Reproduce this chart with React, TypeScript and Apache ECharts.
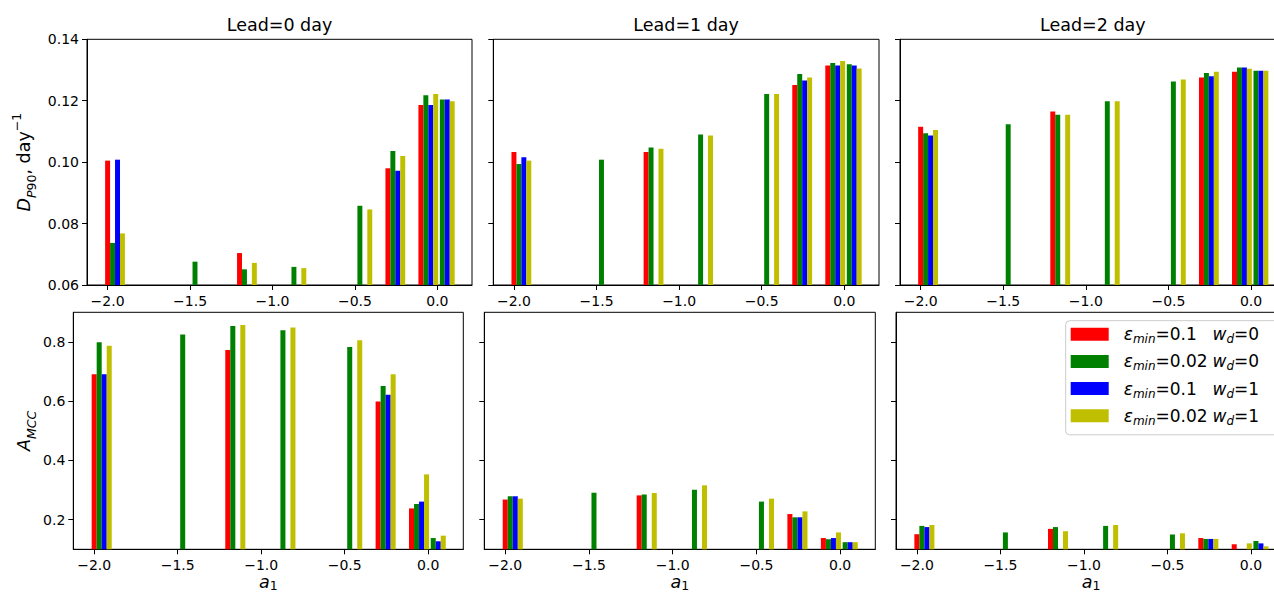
import React, { useEffect, useRef } from 'react';
import * as echarts from 'echarts';

// ---------------- data ----------------
const A1 = [-2.0, -1.5, -1.2, -0.9, -0.5, -0.3, -0.1, 0.0];
const CONFIGS = ['e0.1_w0', 'e0.02_w0', 'e0.1_w1', 'e0.02_w1'];
const LEAD_TITLES = ['Lead=0 day', 'Lead=1 day', 'Lead=2 day'];
const X_TICKS = [-2.0, -1.5, -1.0, -0.5, 0.0];
const DP90_TICKS = [0.06, 0.08, 0.1, 0.12, 0.14];
const AMCC_TICKS = [0.2, 0.4, 0.6, 0.8];

// D_P90 (day^-1), lead 0 / 1 / 2 ; rows: configs in CONFIGS order
const DP90_LEAD0 = [
  [0.1005, null, 0.0704, null, null, 0.098, 0.1186, null],
  [0.0737, 0.0676, 0.0651, 0.0659, 0.0858, 0.1036, 0.1218, 0.1204],
  [0.1008, null, null, null, null, 0.0972, 0.1186, 0.1204],
  [0.0768, null, 0.0672, 0.0655, 0.0846, 0.102, 0.1222, 0.1198],
];
const DP90_LEAD1 = [
  [0.1033, null, 0.1033, null, null, 0.1251, 0.1315, null],
  [0.0994, 0.1008, 0.1048, 0.109, 0.1222, 0.1287, 0.1323, 0.1319],
  [0.1016, null, null, null, null, 0.1266, 0.1315, 0.1315],
  [0.1005, null, 0.1044, 0.1087, 0.1222, 0.1276, 0.1329, 0.1305],
];
const DP90_LEAD2 = [
  [0.1115, null, 0.1165, null, null, 0.1276, 0.1294, null],
  [0.1094, 0.1123, 0.1154, 0.1198, 0.1263, 0.129, 0.1308, 0.1298],
  [0.1087, null, null, null, null, 0.128, 0.1308, 0.1298],
  [0.1105, null, 0.1154, 0.1198, 0.1269, 0.1294, 0.1304, 0.1298],
];
// A_MCC, lead 0 / 1 / 2
const AMCC_LEAD0 = [
  [0.691, null, 0.773, null, null, 0.599, 0.238, null],
  [0.799, 0.825, 0.854, 0.839, 0.783, 0.651, 0.253, 0.138],
  [0.691, null, null, null, null, 0.622, 0.261, 0.127],
  [0.787, null, 0.857, 0.849, 0.806, 0.691, 0.353, 0.146],
];
const AMCC_LEAD1 = [
  [0.268, null, 0.282, null, null, 0.219, 0.138, null],
  [0.279, 0.291, 0.285, 0.301, 0.261, 0.208, 0.134, 0.124],
  [0.279, null, null, null, null, 0.208, 0.138, 0.124],
  [0.271, null, 0.29, 0.316, 0.271, 0.228, 0.157, 0.124],
];
const AMCC_LEAD2 = [
  [0.151, null, 0.169, null, null, 0.138, 0.117, null],
  [0.179, 0.157, 0.175, 0.179, 0.15, 0.135, 0.095, 0.128],
  [0.175, null, null, null, null, 0.135, 0.095, 0.12],
  [0.182, null, 0.161, 0.182, 0.154, 0.135, 0.12, 0.11],
];

// ---------------- style / layout ----------------
const FONT = 'DejaVu Sans';
const COLORS = ['#ff0000', '#008000', '#0000ff', '#bfbf00'];
const BAR_STEP = 0.03; // offset between configs, in a1 units
const BAR_W = 0.03;
const X_MIN = -2.125;
const X_MAX = 0.21;

const TOP_Y = 39.3, TOP_H = 245.7;
const BOT_Y = 312.3, BOT_H = 237;
const TOP_COLS = [[87, 385], [493.3, 385.7], [900, 385.7]];
const BOT_COLS = [[73.3, 390], [484.3, 391], [896, 390]];

const LEGEND_RICH: Record<string, string> = {
  'e0.1_w0': '{e|ε}{es|min}{v|=0.1}{w|w}{ws|d}{n|=0}',
  'e0.02_w0': '{e|ε}{es|min}{v|=0.02}{w|w}{ws|d}{n|=0}',
  'e0.1_w1': '{e|ε}{es|min}{v|=0.1}{w|w}{ws|d}{n|=1}',
  'e0.02_w1': '{e|ε}{es|min}{v|=0.02}{w|w}{ws|d}{n|=1}',
};

const labelRich = {
  i: { fontFamily: FONT, fontSize: 17.5, fontStyle: 'italic', lineHeight: 28, fill: '#000' },
  n: { fontFamily: FONT, fontSize: 17.5, lineHeight: 28, fill: '#000' },
  si: { fontFamily: FONT, fontSize: 12.5, fontStyle: 'italic', lineHeight: 14, verticalAlign: 'bottom', fill: '#000' },
  sr: { fontFamily: FONT, fontSize: 12.5, lineHeight: 14, verticalAlign: 'bottom', fill: '#000' },
  sup: { fontFamily: FONT, fontSize: 12.5, lineHeight: 14, verticalAlign: 'top', fill: '#000' },
};

const xLabelRich = {
  i: { fontFamily: FONT, fontSize: 17.5, fontStyle: 'italic', lineHeight: 20, fill: '#000' },
  sr: { fontFamily: FONT, fontSize: 12.5, lineHeight: 8, verticalAlign: 'bottom', fill: '#000' },
};

export default function App() {
  const ref = useRef<HTMLDivElement>(null);

  useEffect(() => {
    if (!ref.current) return;
    const chart = echarts.init(ref.current, null, { renderer: 'svg' });

    const panels = [
      { data: DP90_LEAD0, top: true, col: 0 },
      { data: DP90_LEAD1, top: true, col: 1 },
      { data: DP90_LEAD2, top: true, col: 2 },
      { data: AMCC_LEAD0, top: false, col: 0 },
      { data: AMCC_LEAD1, top: false, col: 1 },
      { data: AMCC_LEAD2, top: false, col: 2 },
    ];

    const grids: any[] = [];
    const xAxes: any[] = [];
    const yAxes: any[] = [];
    const series: any[] = [];

    panels.forEach((p, pi) => {
      const [left, width] = p.top ? TOP_COLS[p.col] : BOT_COLS[p.col];
      grids.push({
        left, width,
        top: p.top ? TOP_Y : BOT_Y,
        height: p.top ? TOP_H : BOT_H,
        show: true,
        borderColor: '#000',
        borderWidth: 1,
        backgroundColor: '#fff',
        containLabel: false,
        outerBoundsMode: 'none',
      });
      xAxes.push({
        type: 'value',
        gridIndex: pi,
        min: X_MIN,
        max: X_MAX,
        splitLine: { show: false },
        axisLine: { show: true, onZero: false, lineStyle: { color: '#000', width: 1 } },
        axisTick: { show: true, length: 5, customValues: X_TICKS, lineStyle: { color: '#000', width: 1 } },
        axisLabel: {
          show: true,
          customValues: X_TICKS,
          margin: 9,
          fontFamily: FONT,
          fontSize: 14,
          color: '#000',
          formatter: (v: number) => v.toFixed(1).replace('-', '\u2212'),
        },
      });
      const yMin = p.top ? 0.06 : 0.1;
      const yMax = p.top ? 0.14 : 0.9;
      const yt = p.top ? DP90_TICKS : AMCC_TICKS;
      yAxes.push({
        type: 'value',
        gridIndex: pi,
        min: yMin,
        max: yMax,
        splitLine: { show: false },
        axisLine: { show: true, onZero: false, lineStyle: { color: '#000', width: 1 } },
        axisTick: { show: true, length: 5, customValues: yt, lineStyle: { color: '#000', width: 1 } },
        axisLabel: {
          show: p.col === 0,
          customValues: yt,
          margin: 8,
          fontFamily: FONT,
          fontSize: 14,
          color: '#000',
          formatter: (v: number) => (p.top ? v.toFixed(2) : v.toFixed(1)),
        },
      });

      CONFIGS.forEach((name, k) => {
        const pts: number[][] = [];
        p.data[k].forEach((val: number | null, i: number) => {
          if (val !== null) pts.push([A1[i] + k * BAR_STEP, val]);
        });
        const color = COLORS[k];
        series.push({
          type: 'custom',
          name,
          xAxisIndex: pi,
          yAxisIndex: pi,
          itemStyle: { color },
          data: pts,
          renderItem: (params: any, api: any) => {
            const x = api.value(0);
            const y = api.value(1);
            if (y <= yMin) return null;
            const p0 = api.coord([x - BAR_W / 2, yMin]);
            const p1 = api.coord([x + BAR_W / 2, y]);
            return {
              type: 'rect',
              shape: { x: p0[0], y: p1[1], width: p1[0] - p0[0], height: p0[1] - p1[1] },
              style: { fill: color },
            };
          },
        });
      });
    });

    const graphics: any[] = [];
    LEAD_TITLES.forEach((t, c) => {
      const [left, width] = TOP_COLS[c];
      graphics.push({
        type: 'text',
        x: left + width / 2,
        y: 24.5,
        style: { text: t, fill: '#000', font: `17.5px "${FONT}"`, align: 'center', verticalAlign: 'middle' },
      });
    });
    BOT_COLS.forEach(([left, width]) => {
      graphics.push({
        type: 'text',
        x: left + width / 2,
        y: 582,
        style: { text: '{i|a}{sr|1}', rich: xLabelRich, align: 'center', verticalAlign: 'middle' },
      });
    });
    graphics.push({
      type: 'text',
      x: 24,
      y: TOP_Y + TOP_H / 2,
      rotation: Math.PI / 2,
      style: { text: '{i|D}{si|P}{sr|90}{n|, day}{sup|\u22121}', rich: labelRich, align: 'center', verticalAlign: 'middle' },
    });
    graphics.push({
      type: 'text',
      x: 24,
      y: BOT_Y + BOT_H / 2,
      rotation: Math.PI / 2,
      style: { text: '{i|A}{si|MCC}', rich: labelRich, align: 'center', verticalAlign: 'middle' },
    });

    chart.setOption({
      animation: false,
      backgroundColor: '#fff',
      grid: grids,
      xAxis: xAxes,
      yAxis: yAxes,
      series,
      graphic: graphics,
      legend: {
        data: CONFIGS,
        orient: 'vertical',
        left: 1065.7,
        top: 320.7,
        itemWidth: 38,
        itemHeight: 13,
        itemGap: 7.7,
        icon: 'rect',
        selectedMode: false,
        padding: [5, 40, 8, 5],
        backgroundColor: 'rgba(255,255,255,0.8)',
        borderColor: '#cccccc',
        borderWidth: 1,
        borderRadius: 4,
        formatter: (name: string) => LEGEND_RICH[name],
        textStyle: {
          fontFamily: FONT,
          fontSize: 17,
          color: '#000',
          rich: {
            e: { fontFamily: FONT, fontSize: 17, fontStyle: 'italic', lineHeight: 22, color: '#000', padding: [0, 0, 0, 10] },
            es: { fontFamily: FONT, fontSize: 12, fontStyle: 'italic', lineHeight: 12, verticalAlign: 'bottom', color: '#000' },
            v: { fontFamily: FONT, fontSize: 17, lineHeight: 22, width: 57, color: '#000' },
            w: { fontFamily: FONT, fontSize: 17, fontStyle: 'italic', lineHeight: 22, color: '#000' },
            ws: { fontFamily: FONT, fontSize: 12, fontStyle: 'italic', lineHeight: 12, verticalAlign: 'bottom', color: '#000' },
            n: { fontFamily: FONT, fontSize: 17, lineHeight: 22, color: '#000' },
          },
        },
      },
    });

    return () => chart.dispose();
  }, []);

  return (
    <div style={{ position: 'fixed', left: 0, top: 0, width: 1274, height: 594, overflow: 'hidden', background: '#fff' }}>
      <div ref={ref} style={{ width: 1300, height: 594 }} />
    </div>
  );
}
